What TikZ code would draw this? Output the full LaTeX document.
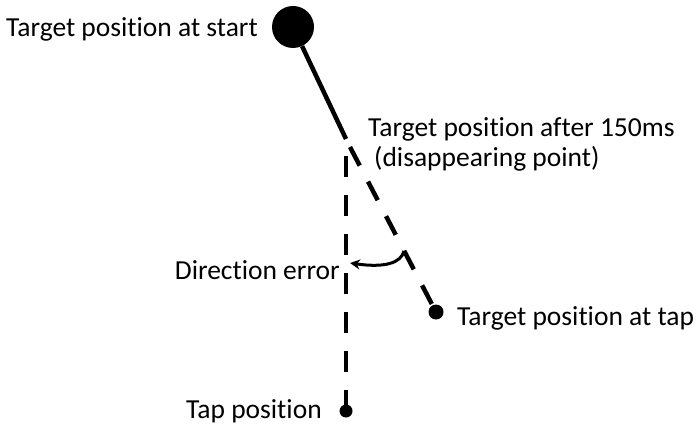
\documentclass[tikz,border=0pt]{standalone}
\usepackage{fontspec}
\setmainfont{Carlito}[Ligatures=NoCommon]
\usetikzlibrary{arrows.meta,calc}
\begin{document}
\begin{tikzpicture}[x=1pt,y=-1pt,
  lbl/.style={inner sep=0pt,font=\fontsize{27.5}{32}\selectfont},
  solidline/.style={line width=4.5pt},
  dashline/.style={line width=4.5pt,dash pattern=on 21pt off 18pt},
  dot/.style={circle,fill=black,inner sep=0pt}]
\useasboundingbox (0,0) rectangle (700,430);
\node[dot,minimum size=42pt] (start) at (293,27) {};
\coordinate (dp) at (346,139);
\node[dot,minimum size=15pt] (ttap) at (436,312) {};
\node[dot,minimum size=13pt] (tap) at (346,411) {};
\coordinate (vtop) at (346,156);
\coordinate (dtop) at (350,147);
\coordinate (arcs) at (404,251);
\coordinate (arce) at (350,263);
\draw[solidline] (start) -- (dp);
\draw[dashline] (tap.center) -- (vtop);
\draw[dashline] (dtop) -- (ttap.center);
\draw[line width=3pt,-{Stealth[length=10pt,width=10pt]}] (arcs) .. controls (401,263) and (385,268) .. (arce);
\node[lbl,anchor=east] (lstart) at (258,29) {Target position at start};
\node[lbl,anchor=west] (ldp1) at (368,129) {Target position after 150ms};
\node[lbl,anchor=west] (ldp2) at (374,159) {(disappearing point)};
\node[lbl,anchor=east] (lerr) at (340,270) {Direction error};
\node[lbl,anchor=west] (lttap) at (457,318) {Target position at tap};
\node[lbl,anchor=east] (ltap) at (322,411) {Tap position};
\end{tikzpicture}
\end{document}
